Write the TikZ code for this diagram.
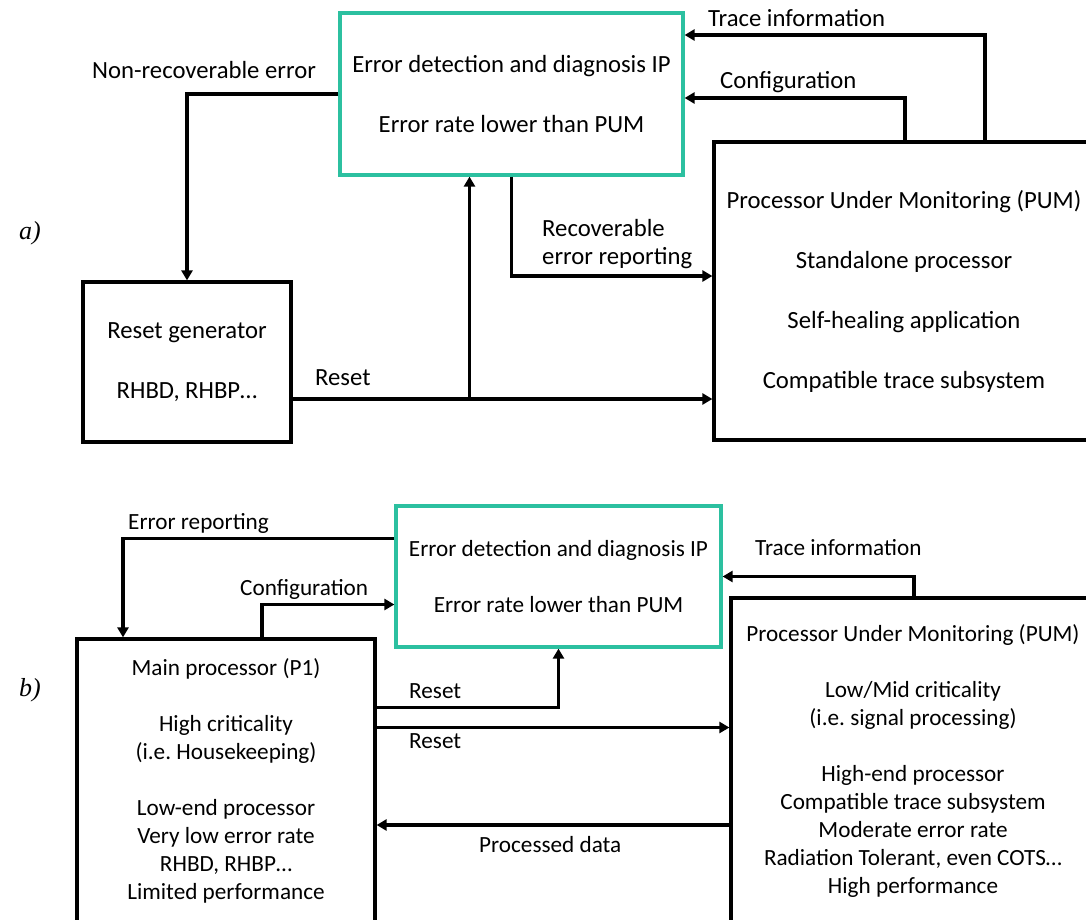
\documentclass[tikz,border=0pt]{standalone}
\usepackage{fontspec}
\setmainfont{Carlito}
\newfontfamily\tagfont{Liberation Serif}
\usetikzlibrary{positioning, arrows.meta, calc}
\definecolor{IPColor}{RGB}{44,192,160}
\frenchspacing

\begin{document}
\begin{tikzpicture}[x=1pt, y=-1pt,
    box/.style={draw, line width=3.2pt, align=center, inner sep=0pt},
    ipbox/.style={box, draw=IPColor},
    link/.style={line width=3.2pt, -{Triangle[length=10pt, width=11pt]}},
    lbl/.style={inner sep=0pt, anchor=west, align=left},
    bigtxt/.style={font=\fontsize{24.7}{30}\selectfont},
    smalltxt/.style={font=\fontsize{23.2}{28}\selectfont},
    tag/.style={font=\tagfont\itshape\fontsize{26}{30}\selectfont}]
  \path[use as bounding box, clip] (0,0) rectangle (1086,920);
  \fill[white] (0,0) rectangle (1086,920);

  % a)
  \node[tag] (tagA) at (30,233) {a)};
  \node[ipbox, bigtxt, minimum width=343pt, minimum height=162pt] (ipA) at (511.5,94)
    {Error detection and diagnosis IP\\[30pt]Error rate lower than PUM};
  \node[box, bigtxt, minimum width=380pt, minimum height=298pt] (pumA) at (904,291)
    {Processor Under Monitoring (PUM)\\[30pt]Standalone processor\\[30pt]Self-healing application\\[30pt]Compatible trace subsystem};
  \node[box, bigtxt, minimum width=208pt, minimum height=160pt] (rstA) at (187,362)
    {Reset generator\\[30pt]RHBD, RHBP\dots};

  \draw[link] ([xshift=81pt]pumA.north) |- ([yshift=59pt]ipA.east);
  \draw[link] ([xshift=1pt]pumA.north) |- ([yshift=-4pt]ipA.east);
  \draw[link] (ipA.west) -| (rstA.north);
  \draw[link] (ipA.south) |- ([yshift=15pt]pumA.west);
  \coordinate (rstOut) at ([yshift=-37pt]rstA.east);
  \coordinate (forkA) at ($(rstOut -| ipA.south)+(-42,0)$);
  \draw[link] (rstOut) -- (rstOut -| pumA.west);
  \draw[link] (forkA) -- (forkA |- ipA.south);

  \node[lbl, bigtxt] (traceA) at (708,18) {Trace information};
  \node[lbl, bigtxt] (confA) at (720,82) {Configuration};
  \node[lbl, bigtxt] (nonrecA) at (92,70) {Non-recoverable error};
  \node[lbl, font=\fontsize{24.7}{28}\selectfont] (recA) at (542,244) {Recoverable\\error reporting};
  \node[lbl, bigtxt] (resetA) at (315,378) {Reset};

  % b)
  \node[tag] (tagB) at (30,690) {b)};
  \node[ipbox, smalltxt, minimum width=325pt, minimum height=141pt] (ipB) at (558.5,576.5)
    {Error detection and diagnosis IP\\[28pt]Error rate lower than PUM};
  \node[box, smalltxt, minimum width=298pt, minimum height=283pt] (mainB) at (226,780.5)
    {Main processor (P1)\\[28pt]High criticality\\(i.e. Housekeeping)\\[28pt]Low-end processor\\Very low error rate\\RHBD, RHBP\dots\\Limited performance};
  \node[box, smalltxt, minimum width=364pt, minimum height=326pt] (pumB) at (913,761)
    {Processor Under Monitoring (PUM)\\[28pt]Low/Mid criticality\\(i.e. signal processing)\\[28pt]High-end processor\\Compatible trace subsystem\\Moderate error rate\\Radiation Tolerant, even COTS\dots\\High performance};

  \draw[link] ([yshift=38pt]ipB.west) -| ([xshift=-103pt]mainB.north);
  \draw[link] ([xshift=36pt]mainB.north) |- ([yshift=-28pt]ipB.west);
  \draw[link] ([xshift=1pt]pumB.north) |- (ipB.east);
  \draw[link] ([yshift=73pt]mainB.east) -| (ipB.south);
  \coordinate (rstB) at ([yshift=53pt]mainB.east);
  \draw[link] (rstB) -- (rstB -| pumB.west);
  \coordinate (dataB) at ([yshift=-64pt]pumB.west);
  \draw[link] (dataB) -- (dataB -| mainB.east);

  \node[lbl, smalltxt] (errB) at (128,523) {Error reporting};
  \node[lbl, smalltxt] (confB) at (240,589) {Configuration};
  \node[lbl, smalltxt] (traceB) at (755,548) {Trace information};
  \node[lbl, smalltxt] (resetB) at (409,691) {Reset};
  \node[lbl, smalltxt] (resetC) at (409,741) {Reset};
  \node[lbl, smalltxt] (dataLbl) at (479,845) {Processed data};
\end{tikzpicture}
\end{document}
